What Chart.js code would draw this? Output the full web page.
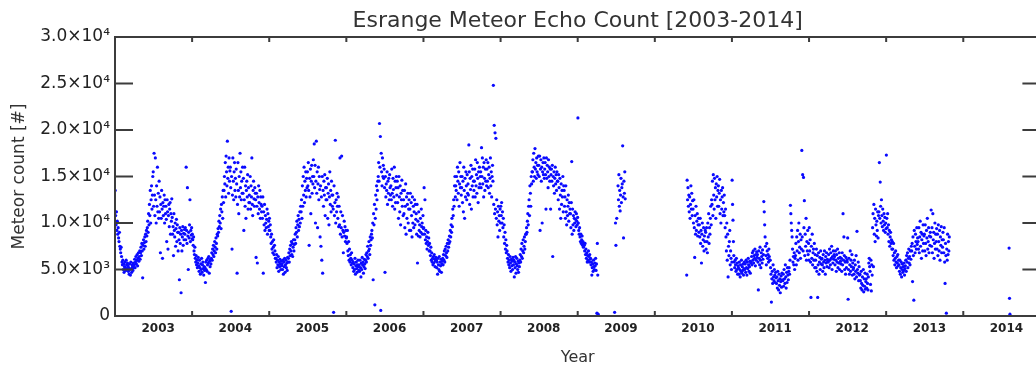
<!DOCTYPE html>
<html><head><meta charset="utf-8">
<script src="https://cdn.jsdelivr.net/npm/chart.js@4.4.1/dist/chart.umd.min.js"></script>
<style>
html,body{margin:0;padding:0;background:#fff;overflow:hidden;width:1036px;height:370px}
#wrap{width:1042px;height:370px}
</style></head>
<body><div id="wrap"><canvas id="c" width="1042" height="370"></canvas></div>
<script>
const _ = null;
const gap = n => Array(n).fill(null);   // days with no observations
// Meteor echo counts sampled every 2 days, in hundreds of echoes; 15 samples per month (18 in December)
const years = [2003,2004,2005,2006,2007,2008,2009,2010,2011,2012,2013,2014];
const y2003 = [
 135,108,98,112,92,102,88,95,84,80,90,75,72,68,74,
 64,58,55,60,50,56,47,53,58,52,49,60,55,51,57,
 54,48,52,45,56,50,44,58,51,47,55,53,49,57,52,
 55,61,52,58,64,56,60,66,54,62,68,59,64,70,61,
 68,74,65,78,70,41,76,82,72,79,85,75,88,80,92,
 86,95,102,90,110,98,120,108,135,100,125,140,115,130,150,
 155,118,175,130,108,170,125,100,140,118,160,112,132,105,145,
 112,128,68,120,105,135,115,62,122,108,118,130,100,125,110,
 118,104,80,125,112,72,108,120,96,115,122,88,110,102,126,
 106,88,96,65,110,92,85,100,75,94,104,80,98,90,70,
 90,82,39,95,78,88,25,92,70,85,96,76,89,82,93,
 88,95,82,160,92,78,138,86,50,90,84,98,125,80,92,87,95,83];
const y2004 = [
 88,82,76,85,70,66,74,62,58,65,55,60,52,57,63,
 54,48,60,52,45,56,50,62,47,55,58,51,44,53,49,
 52,36,58,50,60,48,55,62,57,64,46,59,53,61,56,
 62,68,60,72,66,76,64,70,80,74,68,84,78,72,88,
 86,94,90,102,96,108,100,115,94,120,112,128,105,135,122,
 135,150,142,165,128,172,155,140,188,148,160,132,170,145,156,
 160,138,5,150,72,130,170,145,125,155,165,135,148,128,158,
 142,46,120,165,135,110,150,128,175,138,155,125,145,132,160,
 132,148,92,125,160,118,140,105,135,145,128,152,115,138,122,
 130,122,150,115,140,128,170,120,108,135,145,126,118,138,132,
 125,63,132,118,57,128,110,140,122,115,135,105,128,120,112,
 118,105,128,46,112,98,120,92,108,100,95,104,115,88,110,96,102,92];
const y2005 = [
 105,92,98,85,78,88,72,80,68,74,82,66,76,70,62,
 62,58,66,52,60,55,64,48,58,53,61,56,50,59,54,
 56,50,60,45,58,53,62,47,55,60,52,57,49,63,58,
 62,68,58,72,65,76,70,80,66,78,64,74,82,70,77,
 82,88,78,95,90,102,85,98,108,92,104,96,112,100,118,
 112,125,105,140,118,150,130,160,122,145,135,155,128,148,138,
 155,140,165,135,76,148,128,158,110,145,162,132,150,142,168,
 150,185,138,162,100,145,188,132,155,95,142,160,125,150,136,
 85,140,75,128,60,150,46,135,118,145,130,152,108,138,125,
 138,125,148,105,132,142,98,128,155,120,135,112,145,130,118,
 130,115,4,140,108,122,189,100,125,112,132,118,105,128,96,
 118,98,170,88,112,95,172,85,108,92,68,90,102,86,96,80,92,84];
const y2006 = [
 85,78,92,70,65,80,60,72,58,66,62,55,68,60,57,
 52,58,48,56,50,62,45,54,58,51,47,55,60,53,49,
 55,48,60,52,42,57,50,63,55,58,46,53,61,56,51,
 60,66,58,68,64,75,62,70,80,72,66,85,76,82,88,
 92,84,100,39,110,98,120,12,105,130,115,140,125,135,145,
 150,165,145,207,160,193,6,175,155,140,170,150,162,148,158,
 138,47,150,128,142,135,155,120,145,132,148,125,152,138,130,
 140,125,158,132,118,148,136,128,160,115,145,122,138,150,130,
 145,122,138,105,150,128,112,140,98,132,125,146,118,135,108,
 125,110,135,95,118,142,88,128,105,120,132,100,115,125,92,
 115,132,92,122,108,85,128,100,118,95,112,125,98,120,104,
 110,88,120,57,102,86,112,92,98,85,105,90,115,96,100,88,108,94];
const y2007 = [
 95,138,88,125,82,92,78,85,72,80,90,76,84,70,78,
 70,65,74,60,68,58,62,55,64,57,66,61,53,59,63,
 60,52,58,45,62,55,50,64,48,58,54,61,47,56,59,
 62,55,66,60,70,58,72,65,75,68,63,78,70,82,74,
 78,86,80,92,85,98,90,105,96,115,108,125,118,140,150,
 128,140,135,150,125,160,145,132,155,118,142,165,138,150,130,
 138,150,122,145,112,160,135,105,148,128,155,140,125,152,132,
 142,130,184,155,120,148,136,162,115,150,140,158,128,145,135,
 145,158,128,168,140,152,132,165,148,122,155,138,160,142,150,
 155,138,181,150,170,142,160,128,165,148,135,158,145,168,140,
 158,145,165,138,152,160,132,148,170,140,155,128,150,162,145,
 248,120,205,110,197,115,191,105,125,98,112,85,118,102,108,92,115,100];
const y2008 = [
 118,108,122,100,112,95,105,85,98,78,90,72,82,68,76,
 70,62,58,66,55,60,52,64,57,48,61,54,59,50,63,
 55,60,42,58,52,64,46,56,62,54,50,59,47,57,53,
 60,66,58,72,64,78,62,70,82,68,75,85,72,80,88,
 88,95,90,102,110,98,118,125,108,140,132,118,150,142,155,
 155,168,145,175,160,150,180,158,165,148,170,155,162,152,172,
 162,150,172,92,158,168,145,160,100,155,165,152,170,148,158,
 165,152,115,170,148,162,155,138,168,150,160,145,158,115,152,
 158,145,162,64,150,140,155,132,148,160,142,152,135,155,145,
 145,125,152,138,115,148,130,105,142,120,135,128,150,112,140,
 135,118,128,105,140,112,98,125,108,118,130,102,122,110,115,
 110,95,122,166,88,115,98,108,92,105,100,112,104,96,110,102,98,106];
const y2009 = [
 213,100,92,88,95,85,80,88,78,82,86,76,80,74,78,
 76,70,78,66,72,62,68,58,65,60,70,64,58,66,61,
 62,55,58,44,52,56,48,60,53,50,57,54,62,49,56,
 3,78,44,2,_,_,_,_,_,_,_,_,_,_,_,
 ...gap(15),
 _,_,_,_,_,_,_,_,_,_,_,_,4,_,100,
 76,_,105,_,_,140,125,152,118,135,113,130,148,122,138,
 142,183,128,84,145,132,155,126,_,_,_,_,_,_,_,
 ...gap(63)];
const y2010 = [
 ...gap(75),
 44,146,125,138,118,130,112,128,105,120,140,115,132,108,124,
 115,100,125,95,63,108,88,118,92,102,110,86,98,105,90,
 98,85,105,78,92,57,88,100,75,82,95,70,86,80,92,
 90,72,95,80,68,100,85,110,78,95,88,105,118,98,125,
 120,145,108,152,130,115,148,125,138,105,142,128,150,118,135,
 140,118,132,147,110,125,100,135,115,128,138,108,122,112,130,
 108,95,115,85,70,100,60,88,42,75,65,80,92,55,70,62,50,58];
const y2011 = [
 146,120,103,80,65,58,52,60,55,48,62,50,57,45,54,
 52,45,58,50,42,55,48,60,46,53,49,56,44,51,58,
 50,56,47,60,52,44,58,51,62,55,48,53,59,46,57,
 58,64,55,68,60,70,57,65,62,72,54,66,60,69,63,
 66,58,28,70,62,55,74,60,52,68,64,57,71,61,66,
 123,112,98,85,75,65,55,78,70,62,66,58,72,64,60,
 60,52,45,15,40,48,35,55,42,38,50,44,36,47,41,
 35,42,30,48,38,28,45,33,40,25,37,43,31,46,39,
 38,45,32,50,40,35,55,42,30,47,36,52,44,39,48,
 52,45,60,119,110,100,92,85,72,58,64,55,68,50,62,
 65,78,55,85,70,92,60,80,100,68,74,88,62,82,72,
 178,85,152,70,149,95,124,65,88,75,105,60,80,70,92,66,78,60];
const y2012 = [
 95,70,82,58,20,75,62,88,55,68,72,60,78,52,66,
 60,52,72,48,65,20,55,68,45,58,63,50,70,56,61,
 62,55,48,66,58,52,70,60,45,64,57,68,53,61,59,
 58,66,52,72,60,55,68,62,75,50,64,57,70,61,66,
 64,55,70,60,48,66,58,72,52,62,57,68,50,63,59,
 56,62,48,68,55,110,60,85,65,50,58,45,63,52,60,
 58,84,18,50,62,45,55,70,48,60,53,66,44,57,50,
 52,45,60,40,55,48,65,42,91,50,46,58,38,53,44,
 45,38,30,48,35,28,42,33,50,26,40,32,46,29,37,
 40,30,45,35,28,42,57,62,53,48,34,60,27,55,44,
 95,110,53,120,88,105,80,115,98,86,102,92,112,84,108,
 112,165,105,144,118,100,125,108,96,115,102,92,110,98,106,90,100,94];
const y2013 = [
 173,105,95,110,88,98,80,92,75,85,90,78,82,72,80,
 72,65,78,60,68,55,62,70,58,52,64,57,66,54,60,
 55,48,60,45,52,58,42,50,56,47,53,49,57,44,51,
 54,60,48,65,58,68,52,62,72,57,64,55,70,61,75,
 70,78,37,85,65,17,92,75,68,88,80,72,95,77,84,
 80,72,95,68,85,102,75,90,62,82,88,70,98,78,86,
 88,70,98,78,65,92,84,105,72,80,95,68,86,76,90,
 85,114,75,95,68,110,82,90,62,78,100,72,88,80,94,
 72,88,65,98,80,70,92,60,85,76,96,68,82,74,90,
 82,68,95,58,35,78,65,3,72,60,88,66,80,70,85,
 ...gap(33)];
const y2014 = [
 ...gap(105),
 _,_,_,73,19,2];
const seriesByYear = [y2003,y2004,y2005,y2006,y2007,y2008,y2009,y2010,y2011,y2012,y2013,y2014];
const STEP_DAYS = 2, COUNT_UNIT = 100;

const yTickValues = [0,5000,10000,15000,20000,25000,30000];
const yTickLabels = ['0','5.0\u00d710\u00b3','1.0\u00d710\u2074','1.5\u00d710\u2074','2.0\u00d710\u2074','2.5\u00d710\u2074','3.0\u00d710\u2074'];
const xTickLabels = ['2003','2004','2005','2006','2007','2008','2009','2010','2011','2012','2013','2014'];

const points = [];
years.forEach((yr, k) => {
  seriesByYear[k].forEach((v, i) => {
    if (v !== null) points.push({x: yr + (i * STEP_DAYS + 1) / 365.25, y: v * COUNT_UNIT});
  });
});

const FONT = "'DejaVu Sans', sans-serif";
const framePlugin = {
  id: 'frame',
  afterDatasetsDraw(chart) {
    const {ctx, chartArea: a, scales: {x, y}} = chart;
    ctx.save();
    ctx.strokeStyle = '#3c3c3c';
    ctx.lineWidth = 2;
    ctx.strokeRect(a.left, a.top, a.right - a.left, a.bottom - a.top);
    ctx.beginPath();
    yTickValues.forEach(v => {
      const p = y.getPixelForValue(v);
      ctx.moveTo(a.left, p); ctx.lineTo(a.left + 18, p);
      ctx.moveTo(a.right, p); ctx.lineTo(a.right - 18, p);
    });
    years.slice(1).forEach(v => {
      const p = x.getPixelForValue(v);
      ctx.moveTo(p, a.bottom); ctx.lineTo(p, a.bottom - 5);
      ctx.moveTo(p, a.top); ctx.lineTo(p, a.top + 5);
    });
    ctx.stroke();
    ctx.restore();
  }
};

new Chart(document.getElementById('c'), {
  type: 'scatter',
  data: { datasets: [{
    data: points,
    backgroundColor: '#0a0aff',
    borderWidth: 0,
    pointRadius: 1.6,
    pointHoverRadius: 1.6
  }]},
  options: {
    responsive: false,
    animation: false,
    events: [],
    layout: { padding: 0 },
    plugins: {
      legend: { display: false },
      tooltip: { enabled: false },
      title: {
        display: true,
        fullSize: false,
        text: 'Esrange Meteor Echo Count [2003-2014]',
        color: '#333',
        font: { family: FONT, size: 22, weight: 'normal', lineHeight: 1.2 },
        padding: { top: 8, bottom: 2.6 }
      }
    },
    scales: {
      x: {
        type: 'linear', min: 2003, max: 2015,
        afterBuildTicks: s => { s.ticks = xTickLabels.map(l => ({ value: Number(l) + 0.56 })); },
        afterFit: s => { s.height = 54; },
        grid: { display: false, drawTicks: false }, border: { display: false },
        ticks: {
          autoSkip: false, maxRotation: 0, padding: 6, color: '#222',
          font: { family: FONT, size: 12, weight: 'bold' },
          callback: (v, i) => xTickLabels[i]
        },
        title: { display: true, text: 'Year', color: '#333',
          font: { family: FONT, size: 16 }, padding: { top: 4, bottom: 3 } }
      },
      y: {
        min: 0, max: 30000,
        afterBuildTicks: s => { s.ticks = yTickValues.map(v => ({ value: v })); },
        afterFit: s => { s.width = 115; },
        grid: { display: false, drawTicks: false }, border: { display: false },
        ticks: {
          padding: 5, color: '#222',
          font: { family: FONT, size: 17 },
          callback: (v, i) => yTickLabels[i]
        },
        title: { display: true, text: 'Meteor count [#]', color: '#333',
          font: { family: FONT, size: 17 }, padding: { top: 9, bottom: 0 } }
      }
    }
  },
  plugins: [framePlugin]
});
</script>
</body></html>
